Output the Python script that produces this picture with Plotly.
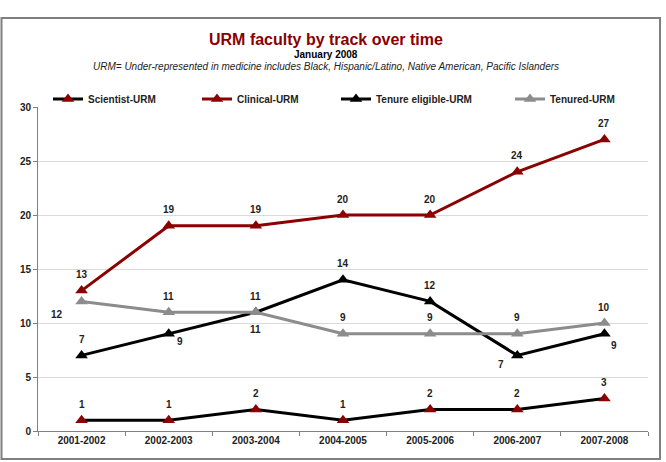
import plotly.graph_objects as go

years = ["2001-2002", "2002-2003", "2003-2004", "2004-2005", "2005-2006", "2006-2007", "2007-2008"]
scientist = [1, 1, 2, 1, 2, 2, 3]
clinical = [13, 19, 19, 20, 20, 24, 27]
tenure_eligible = [7, 9, 11, 14, 12, 7, 9]
tenured = [12, 11, 11, 9, 9, 9, 10]

DARKRED = "#8B0000"
GRAY = "#8C8C8C"
FONT = "Liberation Sans, Arial, sans-serif"

L, R, T, B = 38, 18, 107, 31
W, H = 666, 462
PW, PH = W - L - R, H - T - B

def px(x):
    return (x - L) / PW

def py(y):
    return (H - B - y) / PH

series = [
    ("Scientist-URM", scientist, "black", DARKRED, "legend"),
    ("Clinical-URM", clinical, DARKRED, DARKRED, "legend2"),
    ("Tenure eligible-URM", tenure_eligible, "black", "black", "legend3"),
    ("Tenured-URM", tenured, GRAY, GRAY, "legend4"),
]

fig = go.Figure()
for name, vals, lc, mc, lg in series:
    fig.add_trace(go.Scatter(
        x=years, y=vals, name=name, mode="lines+markers",
        line=dict(color=lc, width=3),
        marker=dict(symbol="triangle-up", size=11, color=mc, line=dict(width=0)),
        legend=lg, cliponaxis=False,
    ))

# label offsets (px) per series point
up = (0, 16)
offsets = {
    "Scientist-URM": [up] * 7,
    "Clinical-URM": [up] * 7,
    "Tenure eligible-URM": [up, (11, -8), (0, -17), up, up, (-16, -9), (10, -12)],
    "Tenured-URM": [(-25, -13), up, up, up, up, up, up],
}
annotations = []
for name, vals, lc, mc, lg in series:
    for i, (cat, v) in enumerate(zip(years, vals)):
        dx, dy = offsets[name][i]
        annotations.append(dict(
            x=cat, y=v, xref="x", yref="y", text=str(v), showarrow=False,
            xshift=dx, yshift=dy, font=dict(family=FONT, size=10, color="#222", weight="bold"),
        ))

annotations += [
    dict(x=px(326), y=py(40), xref="paper", yref="paper", showarrow=False, yanchor="middle",
         text="<b>URM faculty by track over time</b>", font=dict(family=FONT, size=16, color=DARKRED)),
    dict(x=px(326), y=py(55), xref="paper", yref="paper", showarrow=False, yanchor="middle",
         text="<b>January 2008</b>", font=dict(family=FONT, size=10, color="black")),
    dict(x=px(326), y=py(67), xref="paper", yref="paper", showarrow=False, yanchor="middle",
         text="<i>URM= Under-represented in medicine includes Black, Hispanic/Latino, Native American, Pacific Islanders</i>",
         font=dict(family=FONT, size=10, color="#222")),
]

legend_x = [48, 197, 336, 510]
legend_common = dict(yanchor="middle", xanchor="left", y=py(99), orientation="h",
                     bgcolor="rgba(0,0,0,0)", font=dict(family=FONT, size=10, color="#222", weight="bold"),
                     itemwidth=30)

fig.update_layout(
    width=W, height=H,
    margin=dict(l=L, r=R, t=T, b=B),
    paper_bgcolor="white", plot_bgcolor="white",
    font=dict(family=FONT),
    showlegend=True,
    legend=dict(x=px(legend_x[0]), **legend_common),
    legend2=dict(x=px(legend_x[1]), **legend_common),
    legend3=dict(x=px(legend_x[2]), **legend_common),
    legend4=dict(x=px(legend_x[3]), **legend_common),
    annotations=annotations,
    xaxis=dict(
        type="category", range=[-0.5, 6.5], showgrid=False,
        showline=True, linecolor="#808080", linewidth=1,
        ticks="outside", tickson="boundaries", ticklen=4, tickcolor="#808080",
        tickfont=dict(family=FONT, size=10, color="#222", weight="bold"),
        zeroline=False,
    ),
    yaxis=dict(
        range=[0, 30], dtick=5, showgrid=True, gridcolor="#D9D9D9", gridwidth=1,
        showline=True, linecolor="#808080", linewidth=1,
        ticks="outside", ticklen=4, tickcolor="#808080",
        tickfont=dict(family=FONT, size=10, color="#222", weight="bold"),
        zeroline=False,
    ),
    shapes=[dict(type="rect", xref="paper", yref="paper",
                 x0=px(1.5), x1=px(660), y0=py(459), y1=py(18),
                 line=dict(color="#7F7F7F", width=2), fillcolor="rgba(0,0,0,0)", layer="below")],
)

fig.write_html("out.html")
